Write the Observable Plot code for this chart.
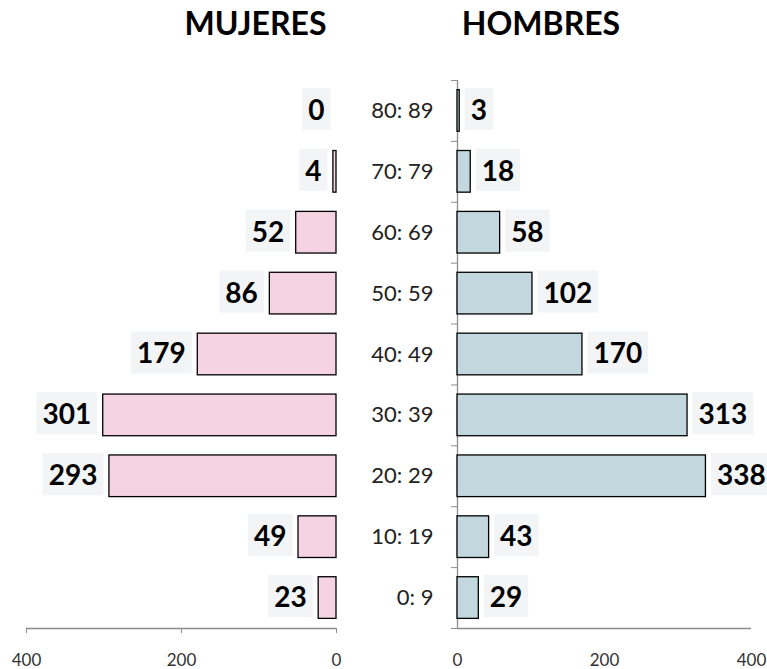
<!DOCTYPE html>
<html><head><meta charset="utf-8">
<script src="https://cdn.jsdelivr.net/npm/d3@7"></script>
<script src="https://cdn.jsdelivr.net/npm/@observablehq/plot@0.6"></script>
<style>
body{margin:0;background:#fff}
#chart{position:relative;width:767px;height:669px;font-family:Lato,sans-serif}
#chart svg{position:absolute;left:0;top:0}
.title{position:absolute;top:7px;font:700 32px/32px Lato,sans-serif;color:#000;transform:translateX(-50%);white-space:nowrap}
</style></head><body>
<div id="chart"></div>
<script>
// Data (bottom to top)
const ages = ["0: 9","10: 19","20: 29","30: 39","40: 49","50: 59","60: 69","70: 79","80: 89"];
const mujeres = [23, 49, 293, 301, 179, 86, 52, 4, 0];
const hombres = [29, 43, 338, 313, 170, 102, 58, 18, 3];
const xTicks = [0, 200, 400];
const titles = ["MUJERES", "HOMBRES"];

const rows = ages.map((age, i) => ({age, i, m: mujeres[i], h: hombres[i]}));
const bounds = d3.range(-0.5, ages.length, 1);
const half = 0.342;
const gray = "#8c8c8c";

const common = {
  width: 767, height: 669, marginTop: 80, marginBottom: 41,
  y: {domain: [-0.5, ages.length - 0.5], axis: null, label: null},
  style: {fontFamily: "Lato, sans-serif", fontSize: "17px", background: "transparent", overflow: "visible"}
};

const left = Plot.plot({
  ...common,
  marginLeft: 26, marginRight: 431,
  x: {domain: [0, 400], reverse: true, axis: null, label: null},
  marks: [
    Plot.ruleY([-0.5], {x1: 0, x2: 400, stroke: gray, strokeWidth: 1.3}),
    Plot.axisX({ticks: xTicks, tickSize: 5, tickPadding: 20, stroke: gray, fill: "#333", fontSize: 17, label: null}),
    Plot.rect(rows, {x1: 0, x2: "m", y1: d => d.i - half, y2: d => d.i + half, fill: "#f6d3e3", stroke: "#000", strokeWidth: 1.3}),
    Plot.text(rows, {x: "m", y: "i", text: d => String(d.m), textAnchor: "end", dx: -12, fontSize: 28, fontWeight: "bold", fill: "#000"})
  ]
});

const right = Plot.plot({
  ...common,
  marginLeft: 457, marginRight: 16,
  x: {domain: [0, 400], axis: null, label: null},
  marks: [
    Plot.ruleY([-0.5], {x1: 0, x2: 400, stroke: gray, strokeWidth: 1.3}),
    Plot.ruleX([0], {y1: -0.5, y2: ages.length - 0.5, stroke: gray, strokeWidth: 1.3}),
    Plot.axisY({ticks: bounds, tickSize: 6, tickFormat: () => "", stroke: gray, label: null}),
    Plot.axisX({ticks: xTicks, tickSize: 0, tickPadding: 25, stroke: gray, fill: "#333", fontSize: 17, label: null}),
    Plot.rect(rows, {x1: 0, x2: "h", y1: d => d.i - half, y2: d => d.i + half, fill: "#c2d8de", stroke: "#000", strokeWidth: 1.3}),
    Plot.text(rows, {x: 0, y: "i", text: "age", textAnchor: "end", dx: -24, fontSize: 22, fill: "#222"}),
    Plot.text(rows, {x: "h", y: "i", text: d => String(d.h), textAnchor: "start", dx: 11, fontSize: 28, fontWeight: "bold", fill: "#000"})
  ]
});

const chart = document.getElementById("chart");
chart.append(left, right);

function addBoxes(svg) {
  svg.querySelectorAll('g[font-weight="bold"] text').forEach(t => {
    const b = t.getBBox();
    const r = document.createElementNS("http://www.w3.org/2000/svg", "rect");
    const cy = b.y + b.height / 2;
    r.setAttribute("x", b.x - 6);
    r.setAttribute("width", b.width + 12);
    r.setAttribute("y", cy - 21);
    r.setAttribute("height", 42);
    r.setAttribute("fill", "#f3f4f6");
    const tr = t.getAttribute("transform");
    if (tr) r.setAttribute("transform", tr);
    t.parentNode.insertBefore(r, t);
  });
}
addBoxes(left);
addBoxes(right);

const centers = [255.5, 541];
titles.forEach((txt, k) => {
  const d = document.createElement("div");
  d.className = "title";
  d.style.left = centers[k] + "px";
  d.textContent = txt;
  chart.append(d);
});
</script>
</body></html>
